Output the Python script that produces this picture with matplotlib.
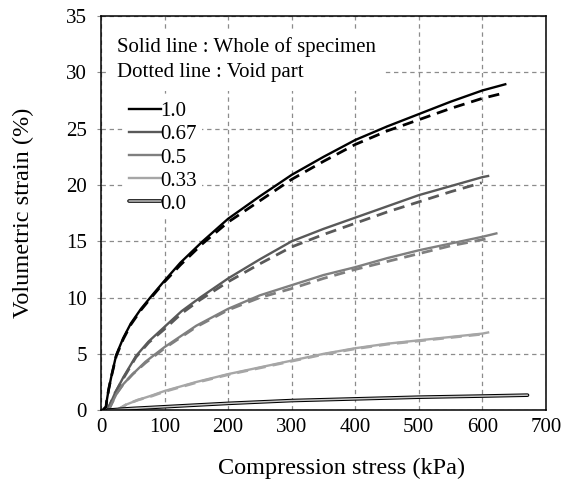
import matplotlib
matplotlib.use("Agg")
import matplotlib.pyplot as plt
import matplotlib.patheffects as pe

plt.rcParams["font.family"] = ["Liberation Serif", "DejaVu Serif"]

# ---- data (stress kPa, volumetric strain %) ----
x_10 = [3, 8, 9, 12, 16, 24, 35, 47, 63, 79, 100, 125, 160, 200, 250, 300, 350, 400, 450, 500, 550, 600, 636]
y_10 = [0.0, 0.3, 0.8, 1.8, 2.9, 4.9, 6.4, 7.7, 9.0, 10.1, 11.5, 13.1, 15.0, 17.0, 19.0, 20.9, 22.5, 24.0, 25.2, 26.3, 27.4, 28.4, 28.95]
x_10d = [3, 8, 9, 12, 16, 24, 35, 47, 63, 79, 100, 125, 160, 200, 250, 300, 350, 400, 450, 500, 550, 600, 636]
y_10d = [0.0, 0.3, 0.8, 1.8, 2.9, 4.8, 6.3, 7.6, 8.9, 10.0, 11.4, 12.9, 14.8, 16.7, 18.6, 20.5, 22.1, 23.6, 24.8, 25.8, 26.8, 27.7, 28.2]

x_067 = [10, 15, 22, 35, 55, 75, 100, 127, 156, 200, 250, 300, 350, 400, 450, 500, 550, 600, 609]
y_067 = [0.0, 0.6, 1.5, 2.9, 4.8, 6.1, 7.4, 8.8, 10.0, 11.7, 13.4, 15.0, 16.1, 17.1, 18.1, 19.1, 19.9, 20.7, 20.8]
x_067d = [10, 15, 22, 35, 55, 75, 100, 127, 156, 200, 250, 300, 350, 400, 450, 500, 550, 599]
y_067d = [0.0, 0.6, 1.5, 2.8, 4.7, 6.0, 7.2, 8.6, 9.8, 11.4, 13.0, 14.5, 15.6, 16.6, 17.6, 18.5, 19.4, 20.2]

x_05 = [12, 18, 25, 35, 50, 70, 100, 150, 200, 250, 300, 350, 400, 450, 500, 550, 600, 622]
y_05 = [0.0, 0.7, 1.5, 2.3, 3.2, 4.3, 5.6, 7.5, 9.0, 10.2, 11.1, 12.0, 12.7, 13.5, 14.2, 14.8, 15.4, 15.7]
x_05d = [12, 18, 25, 35, 50, 70, 100, 150, 200, 250, 300, 350, 400, 450, 500, 550, 605]
y_05d = [0.0, 0.7, 1.5, 2.3, 3.2, 4.2, 5.5, 7.4, 8.9, 10.0, 10.8, 11.7, 12.5, 13.2, 13.9, 14.6, 15.2]

x_033 = [25, 40, 58, 80, 100, 150, 200, 250, 300, 350, 400, 450, 500, 550, 600, 609]
y_033 = [0.0, 0.5, 0.9, 1.3, 1.7, 2.5, 3.2, 3.8, 4.4, 5.0, 5.5, 5.9, 6.2, 6.5, 6.8, 6.9]
x_033d = [25, 40, 58, 80, 100, 150, 200, 250, 300, 350, 400, 450, 500, 550, 600]
y_033d = [0.0, 0.5, 0.9, 1.25, 1.65, 2.45, 3.15, 3.75, 4.35, 4.95, 5.45, 5.85, 6.15, 6.45, 6.75]

x_00 = [10, 50, 100, 200, 300, 400, 500, 600, 671]
y_00 = [0.0, 0.15, 0.3, 0.6, 0.85, 1.0, 1.15, 1.25, 1.33]

C_10 = "#000000"
C_067 = "#595959"
C_05 = "#7f7f7f"
C_033 = "#a6a6a6"
DASH = (0, (4, 2.5))

fig = plt.figure(figsize=(5.64, 4.90), dpi=100)
ax = fig.add_axes([0.179, 0.163, 0.789, 0.804])

LW = 1.7
hollow = [pe.Stroke(linewidth=2.6, foreground="black"), pe.Normal()]

ax.plot(x_10d, y_10d, color=C_10, lw=LW + 0.3, ls=DASH, zorder=3)
ax.plot(x_10, y_10, color=C_10, lw=LW, zorder=4, label="1.0")
ax.plot(x_067d, y_067d, color=C_067, lw=LW + 0.3, ls=DASH, zorder=3)
ax.plot(x_067, y_067, color=C_067, lw=LW, zorder=4, label="0.67")
ax.plot(x_05d, y_05d, color=C_05, lw=LW + 0.3, ls=DASH, zorder=3)
ax.plot(x_05, y_05, color=C_05, lw=LW, zorder=4, label="0.5")
ax.plot(x_033d, y_033d, color=C_033, lw=LW + 0.3, ls=DASH, zorder=3)
ax.plot(x_033, y_033, color=C_033, lw=LW, zorder=4, label="0.33")
ax.plot(x_00, y_00, color="#c8c8c8", lw=1.1, zorder=4, label="0.0",
        path_effects=hollow, solid_capstyle="round")

ax.set_xlim(0, 700)
ax.set_ylim(0, 35)
ax.set_xticks(range(0, 701, 100))
ax.set_yticks(range(0, 36, 5))
ax.grid(True, color="#8c8c8c", ls=(0, (3.5, 3)), lw=0.9)
ax.set_axisbelow(True)
ax.tick_params(axis="both", labelsize=15, direction="out")
ax.tick_params(axis="x", length=0, pad=6)
ax.tick_params(axis="y", length=3, color="#8c8c8c", pad=7)
for s in ax.spines.values():
    s.set_linewidth(1.1)
    s.set_zorder(6)

ax.set_xlabel("Compression stress (kPa)", fontsize=17.5)
ax.xaxis.set_label_coords(0.54, -0.12)
ax.set_ylabel("Volumetric strain (%)", fontsize=17.5)
ax.yaxis.set_label_coords(-0.15, 0.5)

# note text with white box over the grid
ax.text(0.036, 0.889, "Solid line : Whole of specimen\nDotted line : Void part",
        transform=ax.transAxes, fontsize=15, va="center", ha="left",
        linespacing=1.42, zorder=5,
        bbox=dict(boxstyle="square,pad=0.4", facecolor="white", edgecolor="none"))

leg = ax.legend(loc="upper left", bbox_to_anchor=(0.038, 0.812), fontsize=15,
                frameon=True, fancybox=False, handlelength=1.5,
                handletextpad=0.0, labelspacing=0.17, borderpad=0.25,
                borderaxespad=0.3)
leg.get_frame().set_facecolor("white")
leg.get_frame().set_edgecolor("none")
leg.get_frame().set_alpha(1.0)

plt.savefig("out.png", dpi=100)
